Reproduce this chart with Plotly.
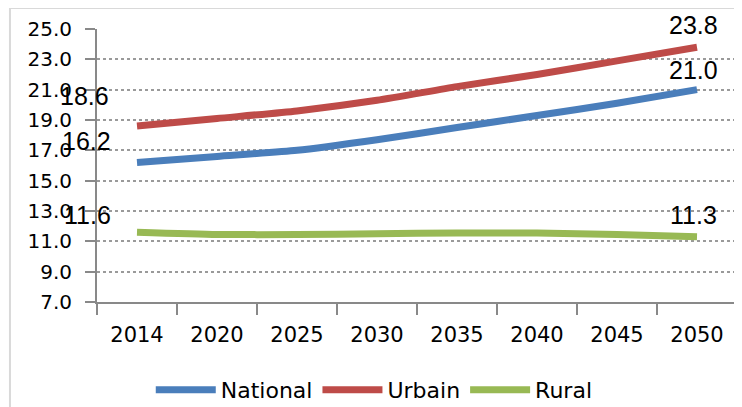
import plotly.graph_objects as go

years = ["2014", "2020", "2025", "2030", "2035", "2040", "2045", "2050"]
national = [16.2, 16.6, 17.0, 17.7, 18.5, 19.3, 20.1, 21.0]
urbain = [18.6, 19.1, 19.6, 20.3, 21.2, 22.0, 22.9, 23.8]
rural = [11.6, 11.45, 11.45, 11.5, 11.55, 11.55, 11.45, 11.3]
y_ticks = [7, 9, 11, 13, 15, 17, 19, 21, 23, 25]

series = [("National", national, "#4A7EBB"),
          ("Urbain", urbain, "#BE4B48"),
          ("Rural", rural, "#98B954")]

fig = go.Figure()
for name, vals, col in series:
    fig.add_trace(go.Scatter(x=years, y=vals, name=name, mode="lines",
                             line=dict(color=col, width=7, shape="spline", smoothing=0.6)))

# data labels (first and last points); x given as category index
label_shifts_first = {"National": (-51, 21), "Urbain": (-53, 30), "Rural": (-50, 17)}
label_shifts_last = {"National": (-4, 20), "Urbain": (-4, 22), "Rural": (-4, 22)}
for name, vals, col in series:
    for idx, shifts in ((0, label_shifts_first), (len(years) - 1, label_shifts_last)):
        dx, dy = shifts[name]
        fig.add_annotation(x=idx, y=vals[idx], xref="x", yref="y",
                           text=f"{vals[idx]:.1f}",
                           showarrow=False, xshift=dx, yshift=dy,
                           xanchor="center", yanchor="middle",
                           font=dict(family="Liberation Sans", size=25, color="#000000"))

# chart border
fig.add_shape(type="rect", xref="paper", yref="paper",
              x0=-0.136, x1=1.03, y0=-0.42, y1=1.077,
              line=dict(color="#D9D9D9", width=2), fillcolor="rgba(0,0,0,0)", layer="below")

fig.update_layout(
    width=734, height=399,
    margin=dict(l=89, r=5, t=21, b=105, autoexpand=False),
    paper_bgcolor="white", plot_bgcolor="white",
    font=dict(family="DejaVu Sans", size=20, color="#000000"),
    showlegend=True,
    legend=dict(orientation="h", xref="container", yref="container",
                x=0.499, xanchor="center", y=0.043, yanchor="middle",
                font=dict(family="DejaVu Sans", size=22), itemwidth=60,
                tracegroupgap=0, bgcolor="rgba(0,0,0,0)"),
)
fig.update_xaxes(type="category", range=[-0.5, 7.5], tickson="boundaries",
                 ticks="outside", ticklen=11, tickcolor="#898989", tickwidth=2,
                 showline=True, linecolor="#898989", linewidth=2, automargin=False,
                 ticklabelstandoff=13,
                 showgrid=False, tickfont=dict(family="DejaVu Sans", size=21))
fig.update_yaxes(range=[7, 25], tickvals=y_ticks, tickformat=".1f",
                 ticks="outside", ticklen=10, tickcolor="#898989", tickwidth=2,
                 showline=True, linecolor="#898989", linewidth=2, automargin=False,
                 ticklabelstandoff=9,
                 showgrid=True, gridcolor="#9A9A9A", griddash="dot", gridwidth=1.5,
                 zeroline=False, tickfont=dict(family="DejaVu Sans", size=20))

fig.write_html("out.html")
